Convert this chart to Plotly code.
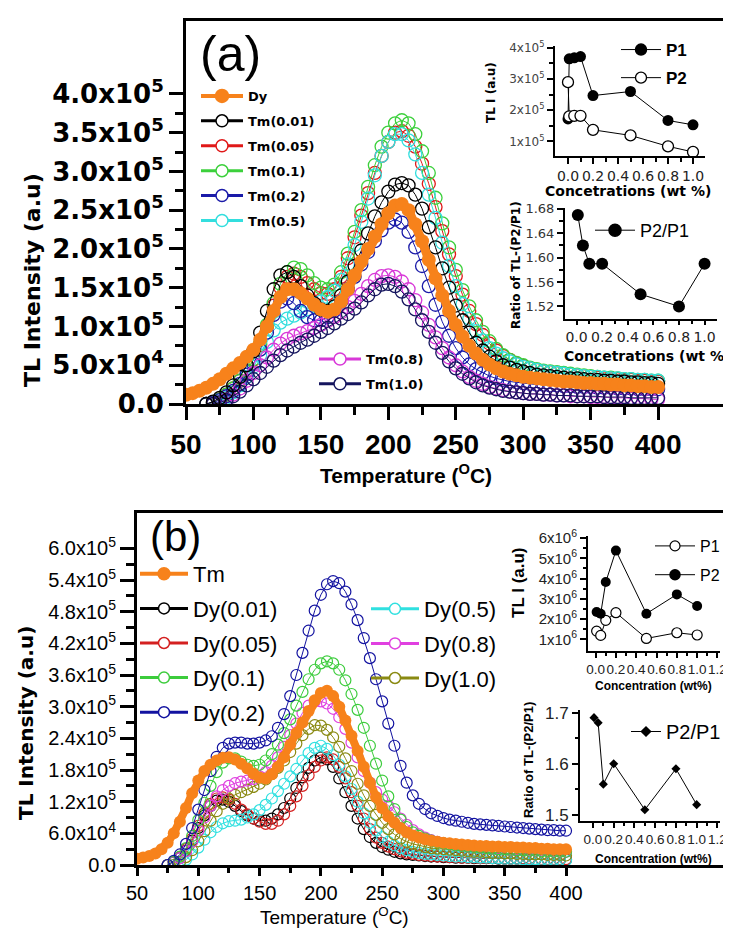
import plotly.graph_objects as go

W, H = 731, 928

# ---------------- data ----------------
TEMP = list(range(50, 405, 5))  # 50 ... 400 degC, step 5

# panel (a)  values in units of 1e5 (a.u.)
A_DY = [0.12, 0.14, 0.17, 0.21, 0.26, 0.32, 0.39, 0.46, 0.53, 0.61,
        0.70, 0.83, 1.00, 1.20, 1.38, 1.48, 1.48, 1.43, 1.36, 1.28,
        1.22, 1.19, 1.22, 1.32, 1.48, 1.66, 1.84, 2.00, 2.16, 2.32,
        2.46, 2.56, 2.58, 2.50, 2.32, 2.10, 1.86, 1.62, 1.40, 1.20,
        1.02, 0.87, 0.75, 0.65, 0.57, 0.51, 0.46, 0.42, 0.39, 0.37,
        0.35, 0.34, 0.33, 0.32, 0.31, 0.30, 0.29, 0.29, 0.28, 0.27,
        0.27, 0.26, 0.26, 0.25, 0.25, 0.24, 0.24, 0.23, 0.23, 0.22,
        0.22]
A_TM001 = [None, None, None, 0.00, 0.03, 0.08, 0.15, 0.24, 0.35, 0.50,
           0.68, 0.92, 1.20, 1.48, 1.66, 1.70, 1.64, 1.52, 1.40, 1.30,
           1.22, 1.20, 1.26, 1.40, 1.58, 1.78, 1.98, 2.20, 2.42, 2.60,
           2.74, 2.83, 2.85, 2.82, 2.70, 2.52, 2.28, 2.02, 1.75, 1.50,
           1.27, 1.08, 0.92, 0.79, 0.69, 0.61, 0.55, 0.50, 0.47, 0.44,
           0.42, 0.40, 0.38, 0.37, 0.36, 0.35, 0.34, 0.33, 0.33, 0.32,
           0.31, 0.31, 0.30, 0.30, 0.29, 0.29, 0.28, 0.28, 0.27, 0.27,
           0.26]
A_TM005 = [None, None, None, 0.00, 0.02, 0.06, 0.12, 0.20, 0.30, 0.42,
           0.57, 0.76, 1.00, 1.27, 1.50, 1.64, 1.68, 1.64, 1.56, 1.48,
           1.43, 1.42, 1.48, 1.64, 1.88, 2.15, 2.43, 2.72, 2.98, 3.20,
           3.38, 3.50, 3.52, 3.46, 3.32, 3.10, 2.84, 2.54, 2.23, 1.93,
           1.65, 1.41, 1.20, 1.03, 0.89, 0.78, 0.69, 0.62, 0.57, 0.52,
           0.49, 0.46, 0.44, 0.42, 0.41, 0.40, 0.39, 0.38, 0.37, 0.36,
           0.35, 0.34, 0.33, 0.33, 0.32, 0.31, 0.31, 0.30, 0.30, 0.29,
           0.29]
A_TM01 = [None, None, None, 0.00, 0.02, 0.06, 0.12, 0.20, 0.30, 0.42,
          0.58, 0.78, 1.02, 1.30, 1.55, 1.70, 1.76, 1.74, 1.66, 1.56,
          1.50, 1.48, 1.54, 1.70, 1.94, 2.22, 2.50, 2.80, 3.08, 3.32,
          3.50, 3.62, 3.66, 3.62, 3.48, 3.26, 2.98, 2.66, 2.33, 2.02,
          1.73, 1.47, 1.26, 1.08, 0.93, 0.81, 0.71, 0.63, 0.57, 0.53,
          0.50, 0.47, 0.45, 0.43, 0.42, 0.41, 0.40, 0.39, 0.38, 0.37,
          0.36, 0.35, 0.34, 0.34, 0.33, 0.32, 0.32, 0.31, 0.31, 0.30,
          0.30]
A_TM02 = [None, None, None, 0.00, 0.02, 0.05, 0.10, 0.17, 0.26, 0.38,
          0.52, 0.70, 0.92, 1.15, 1.32, 1.36, 1.30, 1.20, 1.12, 1.08,
          1.08, 1.12, 1.20, 1.32, 1.48, 1.64, 1.80, 1.96, 2.10, 2.24,
          2.34, 2.38, 2.34, 2.22, 2.02, 1.78, 1.52, 1.28, 1.06, 0.88,
          0.72, 0.60, 0.51, 0.45, 0.40, 0.36, 0.33, 0.31, 0.29, 0.28,
          0.27, 0.26, 0.25, 0.25, 0.24, 0.24, 0.23, 0.23, 0.22, 0.22,
          0.22, 0.21, 0.21, 0.21, 0.20, 0.20, 0.20, 0.19, 0.19, 0.19,
          0.19]
A_TM05 = [None, None, None, None, 0.00, 0.03, 0.08, 0.15, 0.24, 0.35,
          0.48, 0.63, 0.80, 0.95, 1.05, 1.10, 1.14, 1.18, 1.22, 1.27,
          1.32, 1.38, 1.46, 1.60, 1.80, 2.05, 2.35, 2.65, 2.95, 3.20,
          3.38, 3.48, 3.48, 3.40, 3.22, 2.98, 2.70, 2.40, 2.08, 1.78,
          1.52, 1.29, 1.10, 0.94, 0.82, 0.72, 0.65, 0.59, 0.55, 0.51,
          0.48, 0.46, 0.44, 0.42, 0.41, 0.40, 0.39, 0.38, 0.37, 0.36,
          0.35, 0.35, 0.34, 0.33, 0.33, 0.32, 0.32, 0.31, 0.31, 0.30,
          0.30]
A_TM08 = [None, None, None, None, 0.00, 0.02, 0.06, 0.12, 0.20, 0.30,
          0.40, 0.50, 0.60, 0.70, 0.78, 0.84, 0.88, 0.91, 0.94, 0.98,
          1.02, 1.07, 1.12, 1.18, 1.25, 1.33, 1.42, 1.52, 1.60, 1.65,
          1.66, 1.64, 1.58, 1.48, 1.34, 1.18, 1.02, 0.86, 0.72, 0.60,
          0.50, 0.42, 0.35, 0.30, 0.26, 0.22, 0.20, 0.18, 0.16, 0.15,
          0.14, 0.13, 0.13, 0.12, 0.12, 0.11, 0.11, 0.10, 0.10, 0.10,
          0.09, 0.09, 0.09, 0.08, 0.08, 0.08, 0.07, 0.07, 0.07, 0.06,
          0.06]
A_TM10 = [None, None, None, None, 0.00, 0.02, 0.05, 0.10, 0.16, 0.24,
          0.32, 0.40, 0.48, 0.56, 0.63, 0.69, 0.74, 0.79, 0.83, 0.88,
          0.93, 0.98, 1.04, 1.10, 1.16, 1.23, 1.31, 1.40, 1.48, 1.54,
          1.55, 1.52, 1.45, 1.35, 1.22, 1.08, 0.93, 0.79, 0.66, 0.55,
          0.46, 0.39, 0.33, 0.28, 0.24, 0.21, 0.19, 0.17, 0.16, 0.15,
          0.14, 0.13, 0.13, 0.12, 0.12, 0.11, 0.11, 0.11, 0.10, 0.10,
          0.10, 0.10, 0.09, 0.09, 0.09, 0.09, 0.08, 0.08, 0.08, 0.08,
          0.08]

# panel (b)  values in units of 1e5 (a.u.)
B_TM = [0.12, 0.14, 0.17, 0.22, 0.30, 0.42, 0.60, 0.82, 1.08, 1.36,
        1.60, 1.78, 1.90, 1.98, 2.03, 2.04, 2.00, 1.92, 1.83, 1.73,
        1.66, 1.64, 1.72, 1.86, 2.04, 2.28, 2.50, 2.70, 2.92, 3.12,
        3.26, 3.30, 3.20, 3.00, 2.74, 2.45, 2.16, 1.86, 1.56, 1.29,
        1.08, 0.92, 0.80, 0.70, 0.62, 0.56, 0.52, 0.49, 0.46, 0.44,
        0.42, 0.41, 0.40, 0.39, 0.38, 0.37, 0.36, 0.36, 0.35, 0.35,
        0.34, 0.34, 0.33, 0.33, 0.32, 0.32, 0.31, 0.31, 0.30, 0.30,
        0.30]
B_DY001 = [None, None, None, None, None, 0.00, 0.05, 0.13, 0.27, 0.46,
           0.70, 0.94, 1.12, 1.22, 1.24, 1.20, 1.12, 1.02, 0.94, 0.88,
           0.84, 0.84, 0.88, 0.96, 1.08, 1.26, 1.46, 1.66, 1.84, 1.98,
           2.04, 2.00, 1.86, 1.64, 1.38, 1.12, 0.88, 0.68, 0.53, 0.42,
           0.34, 0.29, 0.25, 0.22, 0.20, 0.19, 0.18, 0.17, 0.16, 0.16,
           0.15, 0.15, 0.14, 0.14, 0.14, 0.13, 0.13, 0.13, 0.13, 0.12,
           0.12, 0.12, 0.12, 0.12, 0.11, 0.11, 0.11, 0.11, 0.11, 0.10,
           0.10]
B_DY005 = [None, None, None, None, None, 0.00, 0.06, 0.15, 0.30, 0.50,
           0.74, 0.98, 1.16, 1.26, 1.28, 1.24, 1.16, 1.05, 0.96, 0.88,
           0.82, 0.78, 0.78, 0.84, 0.96, 1.12, 1.30, 1.50, 1.70, 1.86,
           1.98, 2.04, 2.00, 1.86, 1.64, 1.38, 1.12, 0.88, 0.68, 0.52,
           0.42, 0.35, 0.30, 0.26, 0.23, 0.21, 0.19, 0.18, 0.17, 0.16,
           0.16, 0.15, 0.15, 0.14, 0.14, 0.14, 0.13, 0.13, 0.13, 0.13,
           0.12, 0.12, 0.12, 0.12, 0.12, 0.11, 0.11, 0.11, 0.11, 0.11,
           0.11]
B_DY01 = [None, None, None, None, None, 0.00, 0.06, 0.16, 0.32, 0.55,
          0.85, 1.18, 1.50, 1.76, 1.94, 2.02, 2.02, 1.96, 1.90, 1.88,
          1.90, 1.98, 2.10, 2.28, 2.50, 2.76, 3.02, 3.28, 3.52, 3.70,
          3.82, 3.86, 3.82, 3.70, 3.50, 3.24, 2.94, 2.60, 2.26, 1.92,
          1.60, 1.30, 1.06, 0.86, 0.72, 0.62, 0.55, 0.50, 0.46, 0.43,
          0.41, 0.39, 0.37, 0.36, 0.35, 0.34, 0.33, 0.32, 0.31, 0.30,
          0.30, 0.29, 0.28, 0.28, 0.27, 0.27, 0.26, 0.26, 0.25, 0.25,
          0.25]
B_DY02 = [None, None, None, None, None, 0.00, 0.08, 0.20, 0.40, 0.70,
          1.05, 1.42, 1.78, 2.05, 2.22, 2.30, 2.32, 2.32, 2.30, 2.30,
          2.32, 2.36, 2.44, 2.60, 2.86, 3.20, 3.60, 4.02, 4.44, 4.82,
          5.12, 5.32, 5.38, 5.34, 5.18, 4.94, 4.64, 4.30, 3.92, 3.52,
          3.10, 2.68, 2.26, 1.88, 1.56, 1.32, 1.16, 1.06, 0.98, 0.93,
          0.89, 0.86, 0.84, 0.82, 0.80, 0.78, 0.77, 0.76, 0.75, 0.74,
          0.73, 0.72, 0.71, 0.70, 0.69, 0.68, 0.67, 0.66, 0.66, 0.65,
          0.65]
B_DY05 = [None, None, None, None, None, None, 0.00, 0.04, 0.10, 0.20,
          0.33, 0.48, 0.62, 0.72, 0.79, 0.83, 0.84, 0.86, 0.90, 0.96,
          1.04, 1.14, 1.26, 1.40, 1.54, 1.68, 1.82, 1.98, 2.12, 2.22,
          2.26, 2.20, 2.08, 1.90, 1.68, 1.44, 1.20, 0.98, 0.80, 0.65,
          0.53, 0.44, 0.37, 0.32, 0.28, 0.25, 0.23, 0.21, 0.20, 0.19,
          0.18, 0.17, 0.16, 0.16, 0.15, 0.15, 0.14, 0.14, 0.13, 0.13,
          0.12, 0.12, 0.12, 0.11, 0.11, 0.11, 0.10, 0.10, 0.10, 0.10,
          0.09]
B_DY08 = [None, None, None, None, None, 0.00, 0.05, 0.13, 0.26, 0.44,
          0.66, 0.90, 1.12, 1.30, 1.42, 1.50, 1.55, 1.58, 1.60, 1.63,
          1.68, 1.76, 1.88, 2.04, 2.24, 2.46, 2.68, 2.88, 3.02, 3.10,
          3.10, 3.06, 2.96, 2.80, 2.58, 2.32, 2.04, 1.78, 1.56, 1.38,
          1.24, 1.12, 1.00, 0.88, 0.76, 0.66, 0.58, 0.52, 0.47, 0.44,
          0.41, 0.39, 0.37, 0.36, 0.35, 0.34, 0.33, 0.32, 0.31, 0.31,
          0.30, 0.29, 0.29, 0.28, 0.28, 0.27, 0.27, 0.26, 0.26, 0.25,
          0.25]
B_DY10 = [None, None, None, None, None, None, 0.00, 0.06, 0.15, 0.28,
          0.45, 0.64, 0.84, 1.02, 1.16, 1.26, 1.33, 1.38, 1.43, 1.48,
          1.54, 1.62, 1.72, 1.84, 1.98, 2.14, 2.30, 2.46, 2.58, 2.65,
          2.64, 2.56, 2.42, 2.24, 2.02, 1.78, 1.54, 1.32, 1.12, 0.95,
          0.80, 0.68, 0.58, 0.50, 0.44, 0.40, 0.37, 0.34, 0.32, 0.31,
          0.30, 0.29, 0.28, 0.27, 0.26, 0.25, 0.25, 0.24, 0.23, 0.23,
          0.22, 0.22, 0.21, 0.21, 0.20, 0.20, 0.20, 0.19, 0.19, 0.19,
          0.18]

# inset (a) top / bottom
IA_CONC = [0.0, 0.01, 0.05, 0.1, 0.2, 0.5, 0.8, 1.0]
IA_P1 = [1.72, 3.65, 3.68, 3.72, 2.47, 2.60, 1.67, 1.53]      # x1e5
IA_P2 = [2.90, 1.80, 1.82, 1.82, 1.37, 1.19, 0.84, 0.66]      # x1e5
IA_RCONC = [0.01, 0.05, 0.1, 0.2, 0.5, 0.8, 1.0]
IA_RATIO = [1.67, 1.62, 1.59, 1.59, 1.54, 1.52, 1.59]

# inset (b) top / bottom
IB_CONC = [0.01, 0.05, 0.1, 0.2, 0.5, 0.8, 1.0]
IB_P1 = [1.41, 1.20, 1.94, 2.32, 1.05, 1.33, 1.22]            # x1e6
IB_P2 = [2.35, 2.27, 3.83, 5.38, 2.27, 3.22, 2.65]            # x1e6
IB_RATIO = [1.69, 1.68, 1.56, 1.60, 1.51, 1.59, 1.52]

# ticks
A_XTICKS = [50, 100, 150, 200, 250, 300, 350, 400]
A_XMINOR = [75, 125, 175, 225, 275, 325, 375]
A_YTICKS = [0, 0.5, 1.0, 1.5, 2.0, 2.5, 3.0, 3.5, 4.0]
A_YTEXT = ["0.0", "5.0x10<sup>4</sup>", "1.0x10<sup>5</sup>", "1.5x10<sup>5</sup>",
           "2.0x10<sup>5</sup>", "2.5x10<sup>5</sup>", "3.0x10<sup>5</sup>",
           "3.5x10<sup>5</sup>", "4.0x10<sup>5</sup>"]
A_YMINOR = [0.25, 0.75, 1.25, 1.75, 2.25, 2.75, 3.25, 3.75]
B_YTICKS = [0, 0.6, 1.2, 1.8, 2.4, 3.0, 3.6, 4.2, 4.8, 5.4, 6.0]
B_YTEXT = ["0.0", "6.0x10<sup>4</sup>", "1.2x10<sup>5</sup>", "1.8x10<sup>5</sup>",
           "2.4x10<sup>5</sup>", "3.0x10<sup>5</sup>", "3.6x10<sup>5</sup>",
           "4.2x10<sup>5</sup>", "4.8x10<sup>5</sup>", "5.4x10<sup>5</sup>",
           "6.0x10<sup>5</sup>"]
B_YMINOR = [0.3, 0.9, 1.5, 2.1, 2.7, 3.3, 3.9, 4.5, 5.1, 5.7]
IA_YTICKS = [1, 2, 3, 4]
IA_YTEXT = ["1x10<sup>5</sup>", "2x10<sup>5</sup>", "3x10<sup>5</sup>", "4x10<sup>5</sup>"]
IA_XTICKS = [0.0, 0.2, 0.4, 0.6, 0.8, 1.0]
IA_XTEXT = ["0.0", "0.2", "0.4", "0.6", "0.8", "1.0"]
IA_XMINOR = [0.1, 0.3, 0.5, 0.7, 0.9]
IA_RTICKS = [1.52, 1.56, 1.60, 1.64, 1.68]
IB_YTICKS = [1, 2, 3, 4, 5, 6]
IB_YTEXT = ["1x10<sup>6</sup>", "2x10<sup>6</sup>", "3x10<sup>6</sup>", "4x10<sup>6</sup>",
            "5x10<sup>6</sup>", "6x10<sup>6</sup>"]
IB_XTICKS = [0.0, 0.2, 0.4, 0.6, 0.8, 1.0, 1.2]
IB_XTEXT = ["0.0", "0.2", "0.4", "0.6", "0.8", "1.0", "1.2"]
IB_XMINOR = [0.1, 0.3, 0.5, 0.7, 0.9, 1.1]
IB_RTICKS = [1.5, 1.6, 1.7]

# ---------------- style ----------------
ORANGE = "#f7821b"
COL_A = {"Tm(0.01)": "#000000", "Tm(0.05)": "#e01818", "Tm(0.1)": "#3cd03c",
         "Tm(0.2)": "#1a1aa8", "Tm(0.5)": "#33dede", "Tm(0.8)": "#d838d8",
         "Tm(1.0)": "#15155e"}
COL_B = {"Dy(0.01)": "#000000", "Dy(0.05)": "#d42020", "Dy(0.1)": "#3ccc3c",
         "Dy(0.2)": "#1212a0", "Dy(0.5)": "#30e0e0", "Dy(0.8)": "#e040e0",
         "Dy(1.0)": "#8a8a12"}
DJ = "DejaVu Sans"
LIB = "Liberation Sans"


def dom_x(a, b):
    return [a / W, b / W]


def dom_y(top, bottom):
    return [1 - bottom / H, 1 - top / H]


fig = go.Figure()


def circles(x, y, color, xa, ya, size, lw=1.2):
    fig.add_trace(go.Scatter(
        x=x, y=y, mode="lines+markers", xaxis=xa, yaxis=ya, showlegend=False,
        line=dict(color=color, width=1),
        marker=dict(symbol="circle-open", size=size, color=color, line=dict(width=lw, color=color)),
        hoverinfo="skip"))


def band(x, y, xa, ya, lw, size):
    fig.add_trace(go.Scatter(
        x=x, y=y, mode="lines+markers", xaxis=xa, yaxis=ya, showlegend=False,
        line=dict(color=ORANGE, width=lw),
        marker=dict(symbol="circle", size=size, color=ORANGE), hoverinfo="skip"))


def entry(name, color, legend, xa, ya, filled=False, size=11, lw=3, symbol="circle", mlw=1.5):
    fig.add_trace(go.Scatter(
        x=[None], y=[None], name=name, mode="lines+markers", xaxis=xa, yaxis=ya,
        legend=legend, legendgroup=legend + name, showlegend=True,
        line=dict(color=color, width=lw),
        marker=dict(symbol=symbol, size=size, color=color if filled else "white",
                    line=dict(width=mlw, color=color)),
        hoverinfo="skip"))


# panel (a) curves
for nm, ys in [("Tm(0.05)", A_TM005), ("Tm(0.1)", A_TM01), ("Tm(0.5)", A_TM05),
               ("Tm(0.2)", A_TM02), ("Tm(0.8)", A_TM08), ("Tm(1.0)", A_TM10),
               ("Tm(0.01)", A_TM001)]:
    circles(TEMP, ys, COL_A[nm], "x", "y", 13, 1.3)
band(TEMP, A_DY, "x", "y", 9, 14)

# panel (b) curves
for nm, ys in [("Dy(0.01)", B_DY001), ("Dy(0.05)", B_DY005), ("Dy(0.5)", B_DY05),
               ("Dy(1.0)", B_DY10), ("Dy(0.8)", B_DY08), ("Dy(0.1)", B_DY01),
               ("Dy(0.2)", B_DY02)]:
    circles(TEMP, ys, COL_B[nm], "x2", "y2", 11, 1.2)
band(TEMP, B_TM, "x2", "y2", 8, 12)

# inset (a) top
fig.add_trace(go.Scatter(x=IA_CONC, y=IA_P1, mode="lines+markers", xaxis="x3", yaxis="y3",
                         showlegend=False, line=dict(color="black", width=1),
                         marker=dict(symbol="circle", size=11, color="black")))
fig.add_trace(go.Scatter(x=IA_CONC, y=IA_P2, mode="lines+markers", xaxis="x3", yaxis="y3",
                         showlegend=False, line=dict(color="black", width=1),
                         marker=dict(symbol="circle", size=11, color="white",
                                     line=dict(color="black", width=1.3))))
# inset (a) bottom
fig.add_trace(go.Scatter(x=IA_RCONC, y=IA_RATIO, mode="lines+markers", xaxis="x4", yaxis="y4",
                         showlegend=False, line=dict(color="black", width=1),
                         marker=dict(symbol="circle", size=12, color="black")))
# inset (b) top
fig.add_trace(go.Scatter(x=IB_CONC, y=IB_P1, mode="lines+markers", xaxis="x5", yaxis="y5",
                         showlegend=False, line=dict(color="black", width=1),
                         marker=dict(symbol="circle", size=10, color="white",
                                     line=dict(color="black", width=1.2))))
fig.add_trace(go.Scatter(x=IB_CONC, y=IB_P2, mode="lines+markers", xaxis="x5", yaxis="y5",
                         showlegend=False, line=dict(color="black", width=1),
                         marker=dict(symbol="circle", size=10, color="black")))
# inset (b) bottom
fig.add_trace(go.Scatter(x=IB_CONC, y=IB_RATIO, mode="lines+markers", xaxis="x6", yaxis="y6",
                         showlegend=False, line=dict(color="black", width=1),
                         marker=dict(symbol="diamond", size=7, color="black")))

# legend entries
entry("Dy", ORANGE, "legend", "x", "y", filled=True, size=13, lw=4)
for nm in ["Tm(0.01)", "Tm(0.05)", "Tm(0.1)", "Tm(0.2)", "Tm(0.5)"]:
    entry(nm, COL_A[nm], "legend", "x", "y", size=12)
for nm in ["Tm(0.8)", "Tm(1.0)"]:
    entry(nm, COL_A[nm], "legend2", "x", "y", size=12)
entry("P1", "black", "legend3", "x3", "y3", filled=True, size=11, lw=1)
entry("P2", "black", "legend3", "x3", "y3", size=11, lw=1, mlw=1.3)
entry("P2/P1", "black", "legend4", "x4", "y4", filled=True, size=12, lw=1)
entry("Tm", ORANGE, "legend5", "x2", "y2", filled=True, size=12, lw=4)
for nm in ["Dy(0.01)", "Dy(0.05)", "Dy(0.1)", "Dy(0.2)"]:
    entry(nm, COL_B[nm], "legend5", "x2", "y2", size=11)
for nm in ["Dy(0.5)", "Dy(0.8)", "Dy(1.0)"]:
    entry(nm, COL_B[nm], "legend6", "x2", "y2", size=11)
entry("P1", "black", "legend7", "x5", "y5", size=10, lw=1, mlw=1.2)
entry("P2", "black", "legend7", "x5", "y5", filled=True, size=10, lw=1)
entry("P2/P1", "black", "legend8", "x6", "y6", filled=True, size=7, lw=1, symbol="diamond")


def leg(x_px, top_px, size, family, weight="normal", gap=0, iw=40):
    return dict(x=x_px / W, y=1 - top_px / H, xanchor="left", yanchor="top",
                bgcolor="rgba(0,0,0,0)", borderwidth=0, itemwidth=iw,
                tracegroupgap=gap, itemclick=False, itemdoubleclick=False,
                font=dict(family=family, size=size, weight=weight, color="black"))


def axis(domain, rng, anchor, tickvals, ticktext, font, ticklen, tickwidth, linewidth,
         minor_vals=None, minor_len=4, mirror=False):
    d = dict(domain=domain, range=rng, anchor=anchor, showgrid=False, zeroline=False,
             showline=True, linecolor="black", linewidth=linewidth, mirror=mirror,
             ticks="outside", ticklen=ticklen, tickwidth=tickwidth, tickcolor="black",
             tickmode="array", tickvals=tickvals, ticktext=ticktext, tickfont=font,
             tickangle=0, automargin=False, fixedrange=True, ticklabeloverflow="allow")
    if minor_vals:
        d["minor"] = dict(tickmode="array", tickvals=minor_vals, ticks="outside",
                          ticklen=minor_len, tickwidth=tickwidth, tickcolor="black")
    return d


fig.update_layout(
    width=W, height=H, template="none", margin=dict(l=0, r=0, t=0, b=0),
    paper_bgcolor="white", plot_bgcolor="rgba(0,0,0,0)", hovermode=False,
    xaxis=axis(dom_x(178, 729), [50, 458.5], "y", A_XTICKS, [str(v) for v in A_XTICKS],
               dict(family=LIB, size=28, weight="bold", color="black"), 13, 3, 3,
               A_XMINOR, 8, mirror=True),
    yaxis=axis(dom_y(13, 396), [0, 4.94], "x", A_YTICKS, A_YTEXT,
               dict(family=DJ, size=26, weight="bold", color="black"), 14, 3, 3,
               A_YMINOR, 8, mirror=True),
    xaxis2=axis(dom_x(129, 729), [50, 539.5], "y2", A_XTICKS, [str(v) for v in A_XTICKS],
                dict(family=LIB, size=20, color="black"), 8, 3, 3, A_XMINOR, 5, mirror=True),
    yaxis2=axis(dom_y(505, 857), [0, 6.67], "x2", B_YTICKS, B_YTEXT,
                dict(family=LIB, size=20, color="black"), 14, 3, 3, B_YMINOR, 8, mirror=True),
    xaxis3=axis(dom_x(547, 697), [-0.104, 1.096], "y3", IA_XTICKS, IA_XTEXT,
                dict(family=DJ, size=14, color="#222"), 6, 2, 2, IA_XMINOR, 4),
    yaxis3=axis(dom_y(38, 148), [0.53, 4.06], "x3", IA_YTICKS, IA_YTEXT,
                dict(family=DJ, size=12, color="#444"), 6, 2, 2, [1.5, 2.5, 3.5], 4),
    xaxis4=axis(dom_x(557, 709), [-0.09, 1.097], "y4", IA_XTICKS, IA_XTEXT,
                dict(family=DJ, size=14, color="#222"), 4, 2, 2, IA_XMINOR, 3),
    yaxis4=axis(dom_y(200, 311), [1.4993, 1.6815], "x4", IA_RTICKS,
                ["%.2f" % v for v in IA_RTICKS],
                dict(family=DJ, size=13, color="#333"), 6, 2, 2,
                [1.54, 1.58, 1.62, 1.66], 4),
    xaxis5=axis(dom_x(580, 712), [-0.075, 1.225], "y5", IB_XTICKS, IB_XTEXT,
                dict(family=LIB, size=13.5, color="#222"), 5, 2, 2, IB_XMINOR, 3),
    yaxis5=axis(dom_y(528, 643), [0.43, 6.1], "x5", IB_YTICKS, IB_YTEXT,
                dict(family=LIB, size=15, color="#222"), 6, 2, 2,
                [1.5, 2.5, 3.5, 4.5, 5.5], 3),
    xaxis6=axis(dom_x(572, 712), [-0.125, 1.225], "y6", IB_XTICKS, IB_XTEXT,
                dict(family=LIB, size=13.5, color="#222"), 5, 2, 2, IB_XMINOR, 3),
    yaxis6=axis(dom_y(702, 813), [1.488, 1.705], "x6", IB_RTICKS, ["1.5", "1.6", "1.7"],
                dict(family=LIB, size=17, color="#222"), 6, 2, 2, [1.55, 1.65], 3),
    legend=leg(188, 73, 13, DJ, "bold", gap=5, iw=42),
    legend2=leg(306, 336, 13, DJ, "bold", gap=5, iw=42),
    legend3=leg(608, 24, 17, LIB, "bold", gap=3, iw=40),
    legend4=leg(582, 204, 18, LIB, gap=0, iw=40),
    legend5=leg(127, 545, 22, LIB, gap=3, iw=48),
    legend6=leg(358, 580, 22, LIB, gap=3, iw=48),
    legend7=leg(642, 521, 16, LIB, gap=5, iw=40),
    legend8=leg(618, 704, 20, LIB, gap=0, iw=30),
)

ann = [
    dict(text="(a)", x=222, y=46, font=dict(family=LIB, size=50, color="black")),
    dict(text="(b)", x=167, y=528, font=dict(family=LIB, size=42, color="black")),
    dict(text="TL Intensity (a.u)", x=24, y=272, textangle=-90,
         font=dict(family=DJ, size=22, weight="bold", color="black")),
    dict(text="Temperature (<sup>O</sup>C)", x=398, y=466,
         font=dict(family=LIB, size=21, weight="bold", color="black")),
    dict(text="TL Intensity (a.u)", x=18, y=715, textangle=-90,
         font=dict(family=DJ, size=20, weight="bold", color="black")),
    dict(text="Temperature (<sup>O</sup>C)", x=326, y=908,
         font=dict(family=LIB, size=19, color="black")),
    dict(text="TL I (a.u)", x=483, y=85, textangle=-90,
         font=dict(family=DJ, size=12, weight="bold", color="black")),
    dict(text="Concetrations (wt %)", x=620, y=183,
         font=dict(family=DJ, size=14, weight="bold", color="black")),
    dict(text="Ratio of TL-(P2/P1)", x=508, y=257, textangle=-90,
         font=dict(family=DJ, size=12, weight="bold", color="black")),
    dict(text="Concetrations (wt %)", x=639, y=348,
         font=dict(family=DJ, size=14, weight="bold", color="black")),
    dict(text="TL I (a.u)", x=510, y=575, textangle=-90,
         font=dict(family=LIB, size=17, weight="bold", color="black")),
    dict(text="Concentration (wt%)", x=645, y=678,
         font=dict(family=LIB, size=12, weight="bold", color="black")),
    dict(text="Ratio of TL-(P2/P1)", x=520, y=752, textangle=-90,
         font=dict(family=LIB, size=13, weight="bold", color="black")),
    dict(text="Concentration (wt%)", x=645, y=851,
         font=dict(family=LIB, size=12, weight="bold", color="black")),
]
for a in ann:
    a.update(dict(xref="paper", yref="paper", showarrow=False,
                  xanchor="center", yanchor="middle"))
    a["x"] = a["x"] / W
    a["y"] = 1 - a["y"] / H
fig.update_layout(annotations=ann)

fig.write_html("out.html")
